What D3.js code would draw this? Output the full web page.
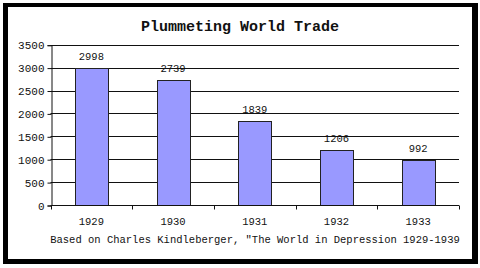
<!DOCTYPE html>
<html><head><meta charset="utf-8">
<script src="https://cdn.jsdelivr.net/npm/d3@7"></script>
<style>html,body{margin:0;padding:0;background:#fff;}svg{display:block;}</style>
</head><body>
<svg id="c" width="480" height="268"></svg>
<script>
const years = ["1929","1930","1931","1932","1933"];
const trade = [2998, 2739, 1839, 1206, 992];
const yTicks = [0,500,1000,1500,2000,2500,3000,3500];
const titleText = "Plummeting World Trade";
const footerText = 'Based on Charles Kindleberger, "The World in Depression 1929-1939';

const svg = d3.select("#c");
// frame
svg.append("rect").attr("x",3).attr("y",3).attr("width",475).attr("height",261).attr("fill","#000");
svg.append("rect").attr("x",8).attr("y",7).attr("width",464).attr("height",252).attr("fill","#fff");

const pL=50.5, pR=459, pT=44.7, pB=205;
const x = d3.scaleBand().domain(years).range([pL,pR]).paddingInner(0.6).paddingOuter(0.3);
const xb = d3.scaleBand().domain(years).range([pL,pR]);
const y = d3.scaleLinear().domain([0,3500]).range([pB,pT]);

const font = "'Liberation Mono', 'Courier New', monospace";

// gridlines
svg.append("g").selectAll("line").data(yTicks.filter(d=>d>0)).join("line")
  .attr("x1",pL).attr("x2",pR)
  .attr("y1",d=>Math.round(y(d))+0.5).attr("y2",d=>Math.round(y(d))+0.5)
  .attr("stroke","#111").attr("stroke-width",1);

// bars
svg.append("g").selectAll("rect").data(trade).join("rect")
  .attr("x",(d,i)=>Math.round(x(years[i]))+0.5)
  .attr("y",d=>Math.round(y(d))+0.5)
  .attr("width",Math.round(x.bandwidth()))
  .attr("height",d=>Math.round(y(0))-Math.round(y(d)))
  .attr("fill","#9999ff").attr("stroke","#222").attr("stroke-width",1);

// y axis
const yAxis = d3.axisLeft(y).tickValues(yTicks).tickFormat(d3.format("d")).tickSize(4).tickPadding(3);
const gy = svg.append("g").attr("transform",`translate(${Math.round(pL)+0.5},0.5)`).call(yAxis);
gy.select(".domain").attr("stroke","#111");
gy.selectAll(".tick line").attr("stroke","#111");
gy.selectAll("text").attr("font-family",font).attr("font-size","11px").attr("fill","#111");

// x axis
const gx = svg.append("g").attr("transform",`translate(0,${Math.round(pB)+0.5})`);
gx.append("line").attr("x1",pL).attr("x2",pR).attr("stroke","#111");
const bounds = years.map(d=>xb(d)).concat([pR]);
gx.selectAll("line.t").data(bounds).join("line").attr("class","t")
  .attr("x1",d=>Math.round(d)+0.5).attr("x2",d=>Math.round(d)+0.5).attr("y1",0).attr("y2",4)
  .attr("stroke","#111");
gx.selectAll("text").data(years).join("text")
  .attr("x",d=>xb(d)+xb.bandwidth()/2).attr("y",19)
  .attr("text-anchor","middle").attr("font-family",font).attr("font-size","10.5px").attr("fill","#111")
  .text(d=>d);

// value labels
svg.append("g").selectAll("text").data(trade).join("text")
  .attr("x",(d,i)=>x(years[i])+x.bandwidth()/2)
  .attr("y",d=>y(d)-7.5)
  .attr("text-anchor","middle").attr("font-family",font).attr("font-size","10.5px").attr("fill","#111")
  .text(d=>d);

// title
svg.append("text").attr("x",240).attr("y",31).attr("text-anchor","middle")
  .attr("font-family",font).attr("font-size","15px").attr("font-weight","bold").attr("fill","#111")
  .text(titleText);

// footer
svg.append("text").attr("x",255).attr("y",243).attr("text-anchor","middle")
  .attr("font-family",font).attr("font-size","10.5px").attr("fill","#111")
  .text(footerText);
</script>
</body></html>
